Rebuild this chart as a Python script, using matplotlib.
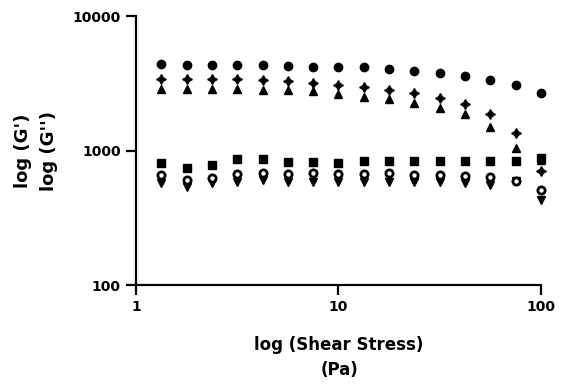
import matplotlib
matplotlib.use("Agg")
import matplotlib.pyplot as plt
from matplotlib.ticker import FixedLocator, NullLocator, FixedFormatter

# Shear stress (Pa)
shear_stress = [1.334, 1.778, 2.371, 3.162, 4.217, 5.623, 7.499, 10.0,
                13.34, 17.78, 23.71, 31.62, 42.17, 56.23, 74.99, 100.0]

# Moduli (Pa), six series
filled_circle = [4400, 4350, 4350, 4350, 4300, 4250, 4200, 4200,
                 4150, 4020, 3900, 3750, 3600, 3340, 3070, 2690]
star = [3400, 3400, 3400, 3400, 3340, 3280, 3170, 3070,
        2980, 2820, 2660, 2440, 2200, 1870, 1360, 700]
up_triangle = [2870, 2870, 2870, 2870, 2820, 2820, 2770, 2620,
               2510, 2400, 2270, 2080, 1860, 1500, 1050, 850]
square = [811, 738, 780, 861, 861, 826, 826, 803,
          840, 840, 840, 840, 840, 840, 840, 875]
open_circle = [657, 604, 621, 665, 677, 665, 684, 673,
               665, 677, 657, 657, 646, 632, 596, 508]
down_triangle = [570, 538, 570, 586, 604, 586, 586, 586,
                 586, 586, 586, 586, 570, 554, 590, 429]

x_ticks = [1, 10, 100]
y_ticks = [100, 1000, 10000]

plt.rcParams['font.family'] = 'DejaVu Sans'
plt.rcParams['font.weight'] = 'bold'

fig = plt.figure(figsize=(5.61, 3.84), dpi=100)
ax = fig.add_axes([0.2424, 0.2578, 0.9643 - 0.2424, 0.9583 - 0.2578])

ms = 6
common = dict(linestyle='none', clip_on=False, color='black')
ax.plot(shear_stress, up_triangle, marker='^', markersize=ms, **common)
ax.plot(shear_stress, star, marker=(4, 1, 0), markersize=ms + 1, **common)
ax.plot(shear_stress, filled_circle, marker='o', markersize=ms, **common)
ax.plot(shear_stress, square, marker='s', markersize=ms - 0.5, **common)
ax.plot(shear_stress, down_triangle, marker='v', markersize=ms, **common)
ax.plot(shear_stress, open_circle, marker='o', markersize=ms - 0.8,
        markerfacecolor='white', markeredgewidth=2, **common)

ax.set_xscale('log')
ax.set_yscale('log')
ax.set_xlim(1, 100)
ax.set_ylim(100, 10000)

ax.xaxis.set_major_locator(FixedLocator(x_ticks))
ax.xaxis.set_major_formatter(FixedFormatter([str(v) for v in x_ticks]))
ax.xaxis.set_minor_locator(NullLocator())
ax.yaxis.set_major_locator(FixedLocator(y_ticks))
ax.yaxis.set_major_formatter(FixedFormatter([str(v) for v in y_ticks]))
ax.yaxis.set_minor_locator(NullLocator())

for side in ['top', 'right']:
    ax.spines[side].set_visible(False)
for side in ['left', 'bottom']:
    ax.spines[side].set_linewidth(1.6)
ax.tick_params(axis='both', which='major', length=7, width=1.6,
               labelsize=10, pad=4)
for lbl in ax.get_xticklabels() + ax.get_yticklabels():
    lbl.set_fontweight('bold')

# axis titles
fig.text(339 / 561, 1 - 345 / 384, 'log (Shear Stress)', ha='center',
         va='center', fontsize=12, fontweight='bold')
fig.text(339 / 561, 1 - 370 / 384, '(Pa)', ha='center', va='center',
         fontsize=12, fontweight='bold')
fig.text(23 / 561, 1 - 151 / 384, "log (G')", ha='center', va='center',
         rotation=90, fontsize=13, fontweight='bold')
fig.text(49 / 561, 1 - 151 / 384, "log (G'')", ha='center', va='center',
         rotation=90, fontsize=13, fontweight='bold')

fig.savefig('out.png', dpi=100)
